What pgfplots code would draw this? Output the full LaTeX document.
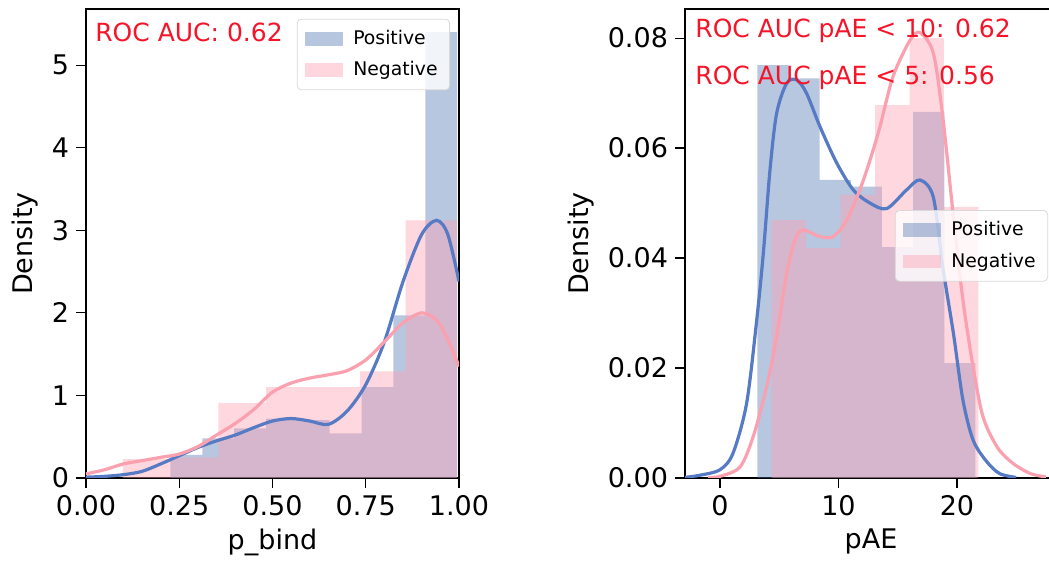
\documentclass[border=0pt]{standalone}
\usepackage{fontspec}
\setmainfont{DejaVu Sans}
\usepackage{pgfplots}
\pgfplotsset{compat=1.18}

\definecolor{posfill}{HTML}{4C72B0}
\definecolor{posline}{RGB}{86,122,196}
\definecolor{negfill}{RGB}{255,160,176}
\definecolor{negline}{RGB}{250,160,175}
\definecolor{auc}{RGB}{245,20,40}

\tikzset{
  auctext/.style={anchor=west, inner sep=0pt, text=auc, font=\fontsize{12.5}{15}\selectfont},
}

\pgfplotsset{
  distpanel/.style={
    scale only axis,
    height=234.5pt,
    ymin=0,
    tick align=outside,
    xtick pos=left, ytick pos=left,
    major tick length=5pt,
    tick style={black, line width=0.6pt},
    axis line style={line width=0.6pt},
    /pgf/number format/assume math mode=true,
    tick label style={font=\fontsize{13.5}{16}\selectfont},
    label style={font=\fontsize{13.5}{16}\selectfont},
    ylabel={Density},
    legend style={draw=black!15, rounded corners=2pt, fill=white,
      fill opacity=0.8, text opacity=1, inner xsep=4pt, inner ysep=3.5pt,
      font=\fontsize{9.4}{11}\selectfont, row sep=3pt, column sep=3pt,
      cells={anchor=west}},
    legend image code/.code={\fill[#1, sharp corners] (0pt,-3.4pt) rectangle (19pt,3.4pt);},
  },
  poshist/.style={const plot mark left, draw=none, fill=posfill, fill opacity=0.4},
  neghist/.style={const plot mark left, draw=none, fill=negfill, fill opacity=0.42},
  poskde/.style={smooth, posline, line width=1.6pt, forget plot},
  negkde/.style={smooth, negline, line width=1.6pt, forget plot},
}

\begin{document}
\begin{tikzpicture}
\useasboundingbox (0pt,0pt) rectangle (524.5pt,283.5pt);

% ---- predicted binding probability ----
\begin{axis}[distpanel,
  at={(43pt,44.5pt)}, anchor=south west,
  width=186.5pt,
  xmin=0, xmax=1, ymax=5.68,
  xtick={0,0.25,0.5,0.75,1},
  xticklabel style={/pgf/number format/.cd, fixed, fixed zerofill, precision=2},
  ytick={0,1,2,3,4,5},
  xlabel={p\_bind},
  legend style={at={(0.976,0.979)}, anchor=north east},
]
\addplot[poshist] coordinates {
  (0.226,0.28) (0.312,0.48) (0.397,0.60) (0.483,0.72) (0.568,0.70)
  (0.653,0.54) (0.739,1.10) (0.824,1.97) (0.910,5.40) (0.995,5.40)} \closedcycle;
\addlegendentry{Positive}
\addplot[neghist] coordinates {
  (0.099,0.23) (0.227,0.25) (0.355,0.91) (0.483,1.10) (0.611,1.10)
  (0.734,1.29) (0.857,3.12) (0.995,3.12)} \closedcycle;
\addlegendentry{Negative}

\addplot[poskde] coordinates {
  (0,0.01) (0.05,0.02) (0.1,0.04) (0.15,0.08) (0.2,0.17) (0.25,0.27)
  (0.3,0.37) (0.35,0.45) (0.4,0.52) (0.45,0.61) (0.5,0.69) (0.55,0.72)
  (0.6,0.69) (0.65,0.65) (0.7,0.81) (0.75,1.13) (0.8,1.65) (0.85,2.38)
  (0.9,2.95) (0.94,3.12) (0.97,2.95) (1.0,2.38)};
\addplot[negkde] coordinates {
  (0,0.05) (0.05,0.10) (0.1,0.17) (0.15,0.21) (0.2,0.25) (0.25,0.29)
  (0.3,0.38) (0.35,0.52) (0.4,0.66) (0.45,0.83) (0.5,1.04) (0.55,1.15)
  (0.6,1.21) (0.65,1.25) (0.7,1.30) (0.75,1.43) (0.8,1.65) (0.85,1.88)
  (0.9,2.00) (0.94,1.91) (0.97,1.68) (1.0,1.35)};

\node[auctext] at (rel axis cs:0.024,0.951) {ROC AUC: 0.62};
\end{axis}

% ---- predicted aligned error ----
\begin{axis}[distpanel,
  at={(342.5pt,44.5pt)}, anchor=south west,
  width=186pt,
  xmin=-2.95, xmax=28.44, ymax=0.0853,
  xtick={0,10,20},
  ytick={0,0.02,0.04,0.06,0.08},
  yticklabel style={/pgf/number format/.cd, fixed, fixed zerofill, precision=2},
  scaled y ticks=false,
  xlabel={pAE},
  legend style={at={(0.976,0.571)}, anchor=north east},
]
\addplot[poshist] coordinates {
  (3.15,0.0751) (5.78,0.0727) (8.41,0.0542) (11.04,0.0530)
  (13.67,0.0420) (16.30,0.0666) (18.93,0.0209) (21.56,0.0209)} \closedcycle;
\addlegendentry{Positive}
\addplot[neghist] coordinates {
  (4.36,0.0469) (7.27,0.0418) (10.18,0.0515) (13.09,0.0678)
  (16.00,0.0800) (18.90,0.0493) (21.80,0.0493)} \closedcycle;
\addlegendentry{Negative}

\addplot[poskde] coordinates {
  (-3,0.0001) (-1.7,0.0005) (0,0.0015) (1.1,0.0045) (2.25,0.0136)
  (3.1,0.0287) (3.66,0.0409) (4.22,0.0560) (4.78,0.0663) (5.63,0.0718)
  (6.47,0.0724) (7.3,0.0700) (8.44,0.0639) (9.85,0.0573) (11.25,0.0524)
  (12.66,0.0500) (14.07,0.0490) (15.75,0.0524) (16.88,0.0542) (18.0,0.0511)
  (18.8,0.0384) (19.7,0.0263) (20.5,0.0142) (21.36,0.0069) (22.5,0.0030)
  (23.6,0.0008) (25,0.0001)};
\addplot[negkde] coordinates {
  (-1,0.0001) (0,0.0003) (1.69,0.0020) (2.8,0.0075) (3.94,0.0166)
  (4.78,0.0257) (5.63,0.0372) (6.33,0.0433) (7.0,0.0451) (8.44,0.0439)
  (9.56,0.0439) (10.7,0.0469) (11.8,0.0524) (12.66,0.0578) (13.5,0.0639)
  (14.6,0.0730) (16.03,0.0796) (16.88,0.0810) (18.0,0.0773) (18.8,0.0657)
  (19.7,0.0475) (20.5,0.0324) (21.36,0.0202) (22.2,0.0111) (23.4,0.0056)
  (24.7,0.0027) (26.2,0.0008) (27.5,0.0002)};

\node[auctext] at (rel axis cs:0.027,0.953) {ROC AUC pAE < 10: 0.62};
\node[auctext] at (rel axis cs:0.027,0.853) {ROC AUC pAE < 5: 0.56};
\end{axis}
\end{tikzpicture}
\end{document}
